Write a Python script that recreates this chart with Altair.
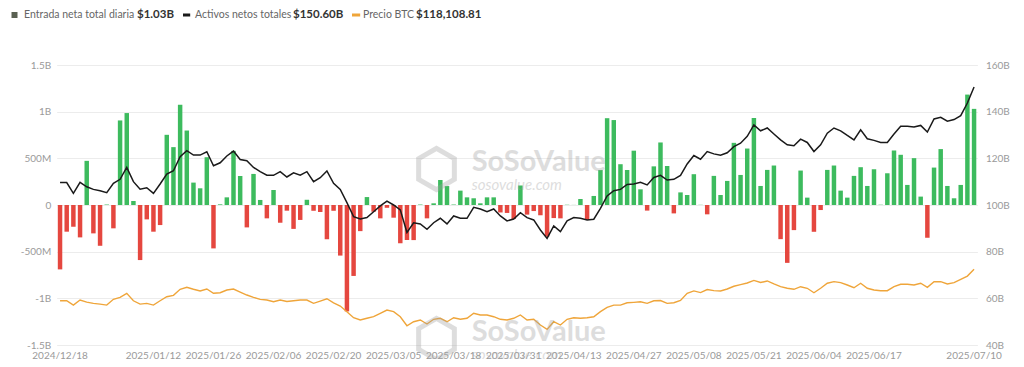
import altair as alt
import pandas as pd

# ---------------- data ----------------
# Daily total net inflow, millions USD (one bar per trading day)
flows_m = [
    -690, -286, -233, -347, 473, -304, -437, 5, -250, 906,
    985, 43, -590, -154, -286, -215, 752, 620, 1074, 798,
    240, 179, 512, -465, 7, 82, 580, 311, -240, 333,
    54, -143, 161, -190, -61, -256, -160, 56, -62, -75,
    -367, -62, -542, -1140, -760, -280, 85, -72, -143, -30,
    -136, -410, -375, -376, 5, -143, 18, 268, 203, 5,
    154, 82, 72, 18, 82, 82, -80, -85, -150, 209,
    -103, -65, -110, -339, -140, -143, 2, 1, 64, -160,
    97, 375, 930, 910, 437, 375, 582, 168, -60, 414,
    670, 418, -90, 135, 107, 330, 2, -100, 312, 107,
    258, 666, 322, 605, 932, 204, 376, 423, -366, -620,
    -269, 369, 79, -287, -54, 376, 423, 154, 79, 312,
    405, 204, 383, 3, 340, 584, 538, 215, 502, 90,
    -351, 401, 599, 204, 72, 215, 1183, 1030,
]

# Total net assets, billions USD
assets_b = [
    109.6, 109.6, 105.0, 109.7, 107.8, 106.7, 106.1, 105.3, 109.3, 111.0,
    116.1, 110.0, 106.8, 107.4, 105.0, 109.0, 113.3, 114.7, 120.7, 123.3,
    121.4, 121.4, 122.8, 116.8, 118.1, 121.0, 123.1, 119.5, 119.0, 116.1,
    114.3, 112.8, 112.7, 114.3, 112.0, 113.8, 112.8, 114.3, 110.0, 111.7,
    114.6, 109.3, 106.7, 101.0, 95.0, 94.0, 94.6, 97.1, 99.6, 101.7,
    100.0, 97.9, 88.2, 92.4, 91.9, 89.6, 92.4, 94.3, 91.9, 95.3,
    94.3, 94.3, 99.0, 98.3, 97.1, 98.3, 95.3, 93.2, 94.0, 96.7,
    94.6, 93.6, 89.3, 85.7, 91.0, 88.6, 93.2, 94.6, 94.3, 93.6,
    93.9, 98.6, 103.9, 106.1, 106.7, 108.8, 109.0, 109.7, 108.6, 111.8,
    112.7, 110.7, 111.0, 112.7, 117.6, 121.2, 119.6, 122.9, 121.9, 121.3,
    122.4, 125.0, 126.5, 129.4, 134.3, 131.8, 133.0, 130.4, 127.9, 125.8,
    125.4, 128.2, 126.8, 122.9, 125.8, 130.8, 133.0, 131.8, 129.8, 127.9,
    132.2, 128.4, 127.7, 126.8, 126.8, 130.4, 133.7, 133.7, 133.4, 134.1,
    131.3, 136.9, 137.6, 135.9, 136.6, 138.3, 143.7, 150.6,
]

# BTC price, thousands USD
btc_k = [
    96.2, 96.2, 93.2, 96.7, 95.3, 94.4, 93.9, 93.2, 97.2, 98.6,
    101.4, 96.2, 93.9, 94.4, 93.2, 96.2, 99.0, 100.0, 104.2, 105.6,
    104.2, 103.0, 104.4, 101.4, 101.8, 103.7, 104.4, 102.3, 100.2, 98.6,
    97.2, 96.7, 95.5, 96.7, 95.7, 96.2, 96.7, 96.7, 94.4, 96.0,
    97.6, 94.8, 92.5, 88.6, 84.4, 82.8, 84.0, 85.1, 87.5, 89.7,
    88.6, 85.1, 78.8, 81.6, 82.8, 80.0, 83.3, 84.0, 81.6, 84.4,
    83.3, 84.0, 87.5, 86.3, 86.3, 85.1, 83.3, 82.8, 84.0, 86.3,
    82.8, 83.3, 79.3, 76.3, 81.6, 79.3, 83.3, 84.4, 84.0, 84.4,
    85.1, 88.6, 91.6, 93.2, 93.2, 94.8, 95.1, 95.5, 94.4, 96.2,
    96.4, 94.4, 94.8, 96.4, 101.4, 103.1, 101.9, 104.0, 103.3, 103.0,
    104.4, 106.3, 107.4, 108.6, 110.4, 108.9, 110.0, 107.9, 106.0, 104.9,
    104.2, 106.0, 104.9, 101.8, 104.9, 108.4, 109.5, 108.8, 107.2, 105.3,
    108.4, 104.9, 103.7, 103.2, 103.2, 106.0, 107.7, 107.7, 107.2, 108.4,
    105.6, 109.5, 109.5, 107.9, 108.8, 111.1, 113.4, 118.10881,
]

tick_idx = [0, 14, 23, 32, 41, 50, 59, 68, 77, 86, 95, 104, 113, 122, 137]
tick_labels = ["2024/12/18", "2025/01/12", "2025/01/26", "2025/02/06", "2025/02/20",
               "2025/03/05", "2025/03/18", "2025/03/31", "2025/04/13", "2025/04/27",
               "2025/05/08", "2025/05/21", "2025/06/04", "2025/06/17", "2025/07/10"]

left_ticks = [-1500, -1000, -500, 0, 500, 1000, 1500]
right_ticks = [40, 60, 80, 100, 120, 140, 160]

legend_names = ["Entrada neta total diaria", "Activos netos totales", "Precio BTC"]
legend_values = ["$1.03B", "$150.60B", "$118,108.81"]

# ---------------- styling ----------------
GREEN = "#3dbb5e"
RED = "#e5473f"
BLACK = "#1a1a1a"
ORANGE = "#efa53a"
FONT = "Lato"
W, H = 920.7, 280

n = len(flows_m)
df = pd.DataFrame({"i": list(range(n)), "flow": flows_m,
                   "assets": assets_b, "btc": btc_k})

label_expr = " : ".join(f"datum.value == {k} ? '{v}'" for k, v in zip(tick_idx, tick_labels)) + " : ''"

x_enc = alt.X(
    "i:O",
    scale=alt.Scale(paddingInner=0.33, paddingOuter=0.165),
    axis=alt.Axis(values=tick_idx, labelExpr=label_expr, labelAngle=0, ticks=False,
                  domain=False, grid=False, labelFontSize=10, labelColor="#9a9a9a",
                  labelFont=FONT, labelPadding=5, title=None, labelOverlap=False),
)

bars = alt.Chart(df).mark_bar().encode(
    x=x_enc,
    y=alt.Y("flow:Q",
            scale=alt.Scale(domain=[-1500, 1500], nice=False, zero=False),
            axis=alt.Axis(values=left_ticks, orient="left", title=None,
                          labelExpr="datum.value == 0 ? '0' : (abs(datum.value) >= 1000 ? (datum.value/1000) + 'B' : datum.value + 'M')",
                          grid=True, gridColor="#ececec", gridWidth=1, domain=False, ticks=False,
                          labelFontSize=10, labelColor="#9a9a9a", labelFont=FONT, labelPadding=6)),
    color=alt.condition("datum.flow >= 0", alt.value(GREEN), alt.value(RED)),
)

assets_line = alt.Chart(df).mark_line(color=BLACK, strokeWidth=1.5).encode(
    x=x_enc,
    y=alt.Y("assets:Q",
            scale=alt.Scale(domain=[40, 160], nice=False, zero=False),
            axis=alt.Axis(values=right_ticks, orient="right", title=None,
                          labelExpr="datum.value + 'B'", grid=False, domain=False, ticks=False,
                          labelFontSize=10, labelColor="#9a9a9a", labelFont=FONT, labelPadding=8)),
)

btc_line = alt.Chart(df).mark_line(color=ORANGE, strokeWidth=1.4).encode(
    x=x_enc,
    y=alt.Y("btc:Q", scale=alt.Scale(domain=[65.4, 260.4], nice=False, zero=False), axis=None),
)

one = pd.DataFrame({"k": [0]})

def text_at(txt, px, py, size=10.5, color="#666666", weight="normal", style="normal", opacity=1.0):
    return alt.Chart(one).mark_text(text=txt, align="left", baseline="middle", font=FONT,
                                    fontSize=size, color=color, fontWeight=weight,
                                    fontStyle=style, opacity=opacity).encode(
        x=alt.value(px), y=alt.value(py))

LY = -50
legend_layers = [
    alt.Chart(one).mark_square(size=36, color="#5a6152", opacity=1).encode(x=alt.value(-42.2), y=alt.value(LY)),
    text_at(legend_names[0], -32.7, LY),
    text_at(legend_values[0], 80.3, LY, size=11.5, color="#333333", weight="bold"),
    alt.Chart(one).mark_rule(color=BLACK, strokeWidth=3).encode(x=alt.value(126.3), x2=alt.value(133.5), y=alt.value(LY)),
    text_at(legend_names[1], 138.3, LY),
    text_at(legend_values[1], 236.3, LY, size=11.5, color="#333333", weight="bold"),
    alt.Chart(one).mark_rule(color=ORANGE, strokeWidth=3).encode(x=alt.value(295.3), x2=alt.value(303.5), y=alt.value(LY)),
    text_at(legend_names[2], 306.3, LY),
    text_at(legend_values[2], 359.3, LY, size=11.5, color="#333333", weight="bold"),
]

HEX = "M0,-1L0.866,-0.5L0.866,0.5L0,1L-0.866,0.5L-0.866,-0.5Z"
wm_layers = []
for dy in [0, 170]:
    wm_layers += [
        alt.Chart(one).mark_point(shape=HEX, size=1700, filled=False, stroke="#a0a0a0",
                                  strokeWidth=5, opacity=0.35).encode(x=alt.value(379.8), y=alt.value(104 + dy)),
        text_at("SoSoValue", 415, 97 + dy, size=29, color="#a0a0a0", weight="bold", opacity=0.35),
        text_at("sosovalue.com", 415, 120 + dy, size=15, color="#a0a0a0", style="italic", opacity=0.35),
    ]

chart = alt.layer(bars, assets_line, btc_line, *wm_layers, *legend_layers).resolve_scale(
    y="independent"
).properties(
    width=W, height=H,
    padding={"left": 48.7, "top": 57, "right": 38.6, "bottom": 14},
    autosize=alt.AutoSizeParams(type="none"),
    background="#ffffff",
).configure_view(stroke=None)

chart.save("out.html", embed_options={"renderer": "svg", "actions": False})
